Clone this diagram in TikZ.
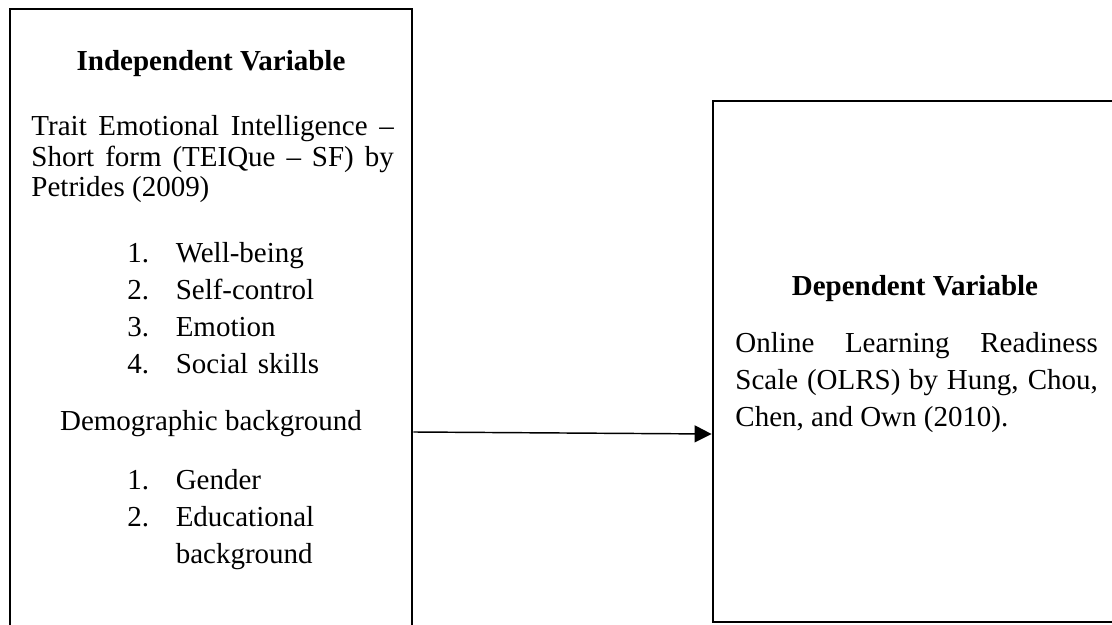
\documentclass[tikz,border=0pt,12pt]{standalone}
\usepackage{fontspec}
\setmainfont{Liberation Serif}
\usetikzlibrary{arrows.meta, fit}
\tikzset{
  panel/.style={rectangle, draw, line width=1.2pt, inner sep=0pt},
  heading/.style={font=\bfseries, inner sep=0pt, anchor=base},
  para/.style={text width=150pt, align=justify, inner sep=0pt, anchor=base west},
  entries/.style={text width=100pt, align=left, inner sep=0pt, anchor=base west, font=\fontsize{12}{15.2}\selectfont},
  line/.style={-{Triangle[length=7pt, width=7pt]}, line width=0.6pt}
}
\newlength\numgap
\setlength\numgap{20pt}
\newcommand\numentry[2]{\makebox[\numgap][l]{#1}#2}

\begin{document}
\begin{tikzpicture}[x=0.414pt, y=-0.414pt]
    \clip (0,0) rectangle (1112,625);
    % the two variable panels, both run off the page
    \node[panel, fit={(10,9) (412,690)}] (iv) {};
    \node[panel, fit={(713,101) (1140,622)}] (dv) {};

    % independent variable
    \node[heading] (ivhead) at (211,71) {Independent Variable};
    \node[para, font=\fontsize{12}{12.6}\selectfont] (ivtext) at (31,136)
      {Trait Emotional Intelligence --\linebreak
       Short form (TEIQue -- SF) by\linebreak
       Petrides (2009)};
    \node[entries] (ivlist) at (127,263)
      {\numentry{1.}{Well-being}\\
       \numentry{2.}{Self-control}\\
       \numentry{3.}{Emotion}\\
       \numentry{4.}{Social skills}};
    \node[inner sep=0pt, anchor=base] (demo) at (211,431) {Demographic background};
    \node[entries] (demolist) at (127,490)
      {\numentry{1.}{Gender}\\
       \numentry{2.}{Educational}\\
       \numentry{}{background}};

    % dependent variable
    \node[heading] (dvhead) at (915,296) {Dependent Variable};
    \node[para, font=\fontsize{12}{15.3}\selectfont] (dvtext) at (735,353)
      {Online Learning Readiness\linebreak
       Scale (OLRS) by Hung, Chou,\linebreak
       Chen, and Own (2010).};

    \draw[line] (iv.east |- 0,432) -- (dv.west |- 0,434);
  \end{tikzpicture}
\end{document}
